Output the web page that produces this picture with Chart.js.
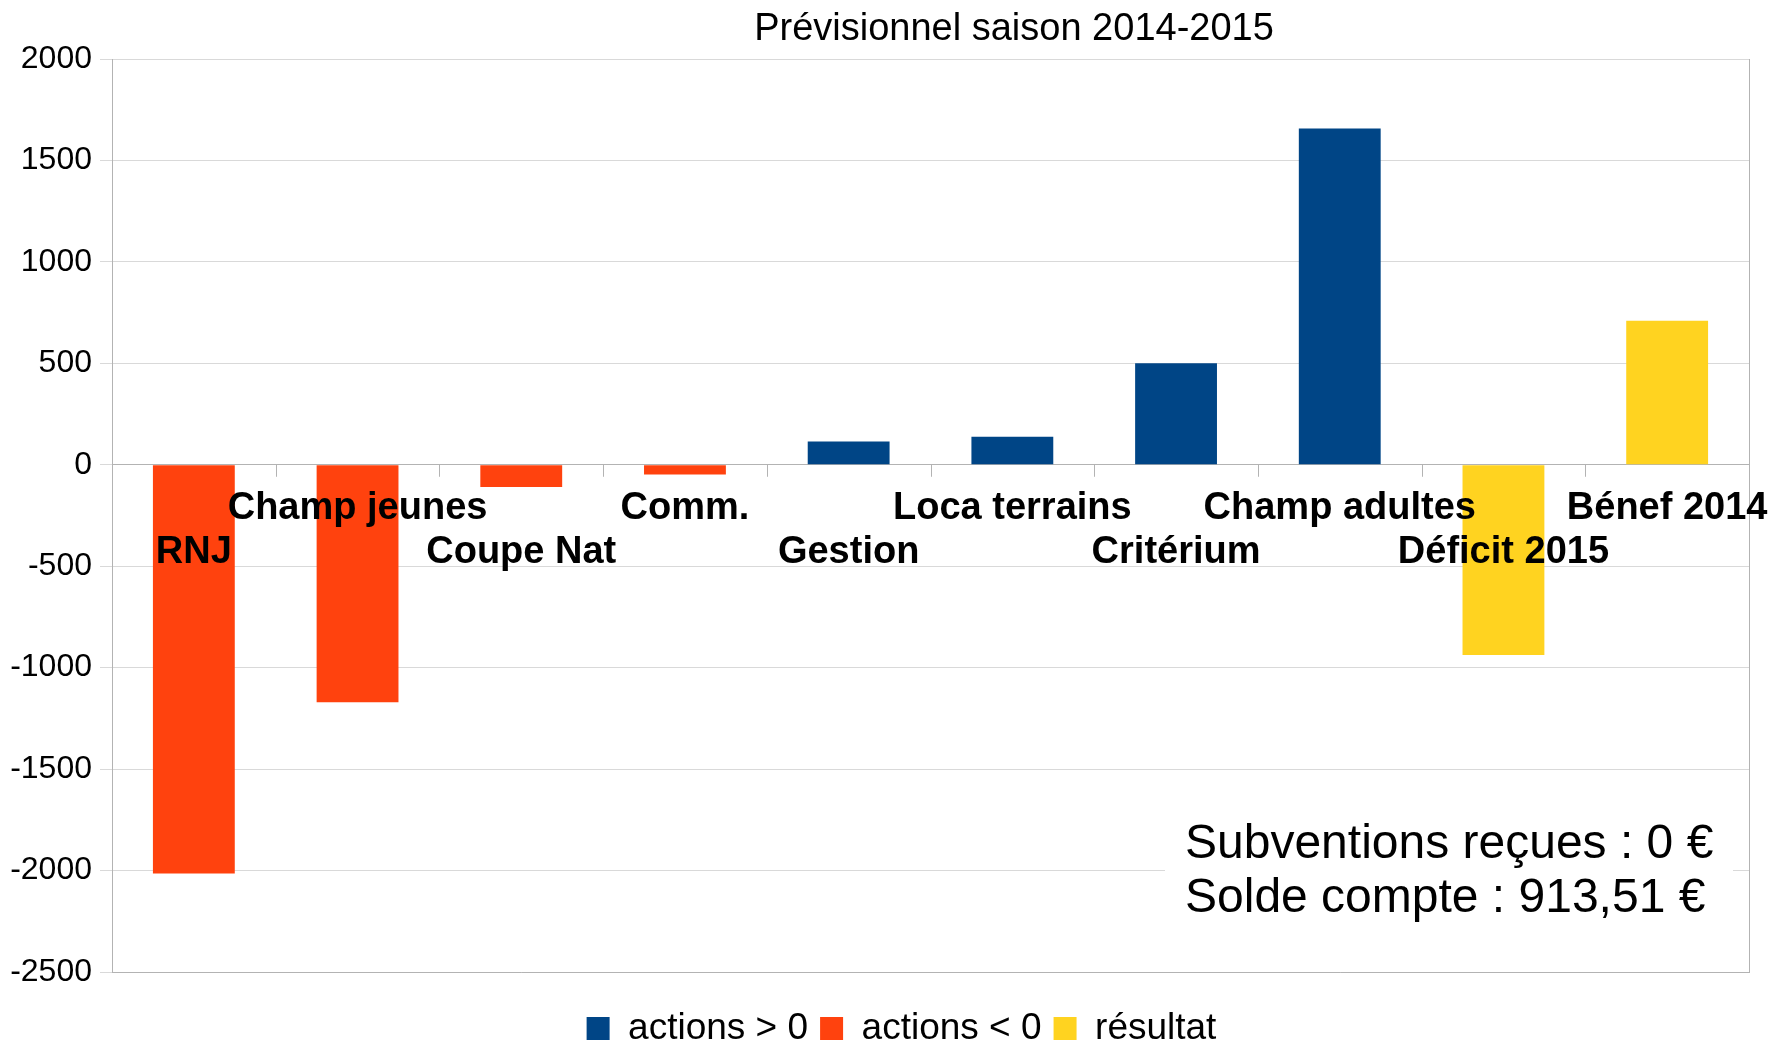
<!DOCTYPE html>
<html>
<head>
<meta charset="utf-8">
<title>Prévisionnel saison 2014-2015</title>
<script src="https://cdn.jsdelivr.net/npm/chart.js@4.4.0/dist/chart.umd.min.js"></script>
<style>
    html, body { margin: 0; padding: 0; background: #fff; }
    #wrap { width: 1775px; height: 1044px; }
</style>
</head>
<body>
<div id="wrap"><canvas id="budgetChart" width="1775" height="1044"></canvas></div>
<script>
// Categories (x axis)
const categories = ['RNJ', 'Champ jeunes', 'Coupe Nat', 'Comm.', 'Gestion',
    'Loca terrains', 'Critérium', 'Champ adultes', 'Déficit 2015', 'Bénef 2014'];

// Series values
const actionsPositives = [null, null, null, null, 115, 138, 500, 1657, null, null];
const actionsNegatives = [-2015, -1170, -110, -48, null, null, null, null, null, null];
const resultat = [null, null, null, null, null, null, null, null, -938, 710];

// Y axis range
const yMin = -2500;
const yMax = 2000;
const yStep = 500;

const titleText = 'Prévisionnel saison 2014-2015';
const noteLines = ['Subventions reçues : 0 €', 'Solde compte : 913,51 €'];

const FONT = "'Liberation Sans', Arial, sans-serif";
const AXIS_COLOR = '#b3b3b3';
const GRID_COLOR = '#d9d9d9';

// Title, staggered category labels, tick marks on the zero line, note box
const extrasPlugin = {
    id: 'extras',
    afterLayout(chart) {
        // legend sits a bit right of the canvas centre in the original
        if (chart.legend) {
            chart.legend.left += 27;
            chart.legend.right += 27;
        }
    },
    beforeDatasetsDraw(chart) {
        const ctx = chart.ctx;
        const area = chart.chartArea;
        const x = chart.scales.x;
        const y = chart.scales.y;
        const zero = y.getPixelForValue(0);
        const step = x.width / categories.length;

        ctx.save();
        ctx.strokeStyle = AXIS_COLOR;
        ctx.lineWidth = 1;
        // right frame line
        ctx.beginPath();
        ctx.moveTo(area.right + 0.5, area.top);
        ctx.lineTo(area.right + 0.5, area.bottom);
        ctx.stroke();
        // small ticks below the zero line, between categories
        for (let i = 1; i <= categories.length; i++) {
            const px = Math.round(x.left + i * step) + 0.5;
            ctx.beginPath();
            ctx.moveTo(px, zero);
            ctx.lineTo(px, zero + 12);
            ctx.stroke();
        }
        ctx.restore();
    },
    afterDatasetsDraw(chart) {
        const ctx = chart.ctx;
        const x = chart.scales.x;
        const y = chart.scales.y;
        const zero = y.getPixelForValue(0);

        ctx.save();
        // category labels, alternating on two rows under the zero line
        ctx.fillStyle = '#000';
        ctx.font = 'bold 38px ' + FONT;
        ctx.textAlign = 'center';
        ctx.textBaseline = 'alphabetic';
        categories.forEach(function(label, i) {
            const px = x.getPixelForValue(i);
            const py = zero + (i % 2 === 1 ? 54 : 98);
            ctx.fillText(label, px, py);
        });

        // title
        ctx.font = '38px ' + FONT;
        ctx.fillText(titleText, 1014, 40);

        // note box
        ctx.fillStyle = '#fff';
        ctx.fillRect(1165, 818, 568, 122);
        ctx.fillStyle = '#000';
        ctx.font = '48px ' + FONT;
        ctx.textAlign = 'left';
        ctx.fillText(noteLines[0], 1185, 858);
        ctx.fillText(noteLines[1], 1185, 912);
        ctx.restore();
    }
};

const ctx = document.getElementById('budgetChart').getContext('2d');
new Chart(ctx, {
    type: 'bar',
    data: {
        labels: categories,
        datasets: [
            { label: 'actions > 0', data: actionsPositives, backgroundColor: '#004586' },
            { label: 'actions < 0', data: actionsNegatives, backgroundColor: '#ff420e' },
            { label: 'résultat', data: resultat, backgroundColor: '#ffd320' }
        ]
    },
    options: {
        responsive: false,
        animation: false,
        devicePixelRatio: 1,
        layout: {
            padding: { top: 59, right: 26, bottom: -13, left: 0 }
        },
        datasets: {
            bar: {
                grouped: false,
                barPercentage: 0.5,
                categoryPercentage: 1.0,
                borderWidth: 0
            }
        },
        plugins: {
            title: { display: false },
            tooltip: { enabled: false },
            legend: {
                position: 'bottom',
                labels: {
                    color: '#000',
                    font: { family: FONT, size: 37 },
                    boxWidth: 23,
                    boxHeight: 23,
                    padding: 12
                }
            }
        },
        scales: {
            x: {
                offset: true,
                ticks: { display: false },
                grid: { display: false },
                border: { display: true, color: AXIS_COLOR, width: 1 },
                afterFit: function(scale) { scale.height = 26; }
            },
            y: {
                min: yMin,
                max: yMax,
                ticks: {
                    stepSize: yStep,
                    color: '#000',
                    padding: 8,
                    font: { family: FONT, size: 32 },
                    callback: function(value) { return String(value); }
                },
                grid: {
                    color: function(c) { return c.tick && c.tick.value === 0 ? AXIS_COLOR : GRID_COLOR; },
                    tickLength: 12,
                    tickColor: GRID_COLOR
                },
                border: { display: true, color: AXIS_COLOR, width: 1 },
                afterFit: function(scale) { scale.width = 112; }
            }
        }
    },
    plugins: [extrasPlugin]
});
</script>
</body>
</html>
